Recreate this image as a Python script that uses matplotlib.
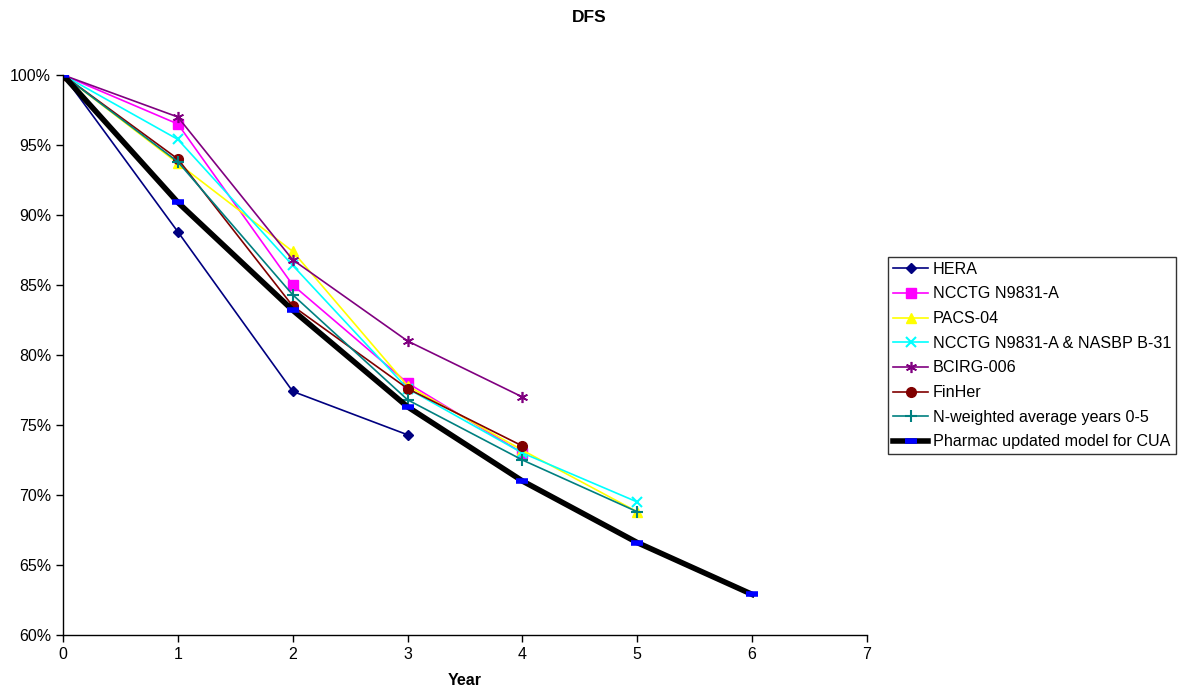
import matplotlib
matplotlib.use("Agg")
import matplotlib.pyplot as plt
from matplotlib.ticker import FuncFormatter, MultipleLocator

plt.rcParams['font.family'] = ['Liberation Sans', 'DejaVu Sans']

years_hera = [0, 1, 2, 3]
hera = [100, 88.8, 77.4, 74.3]
years_4 = [0, 1, 2, 3, 4]
years_5 = [0, 1, 2, 3, 4, 5]
years_6 = [0, 1, 2, 3, 4, 5, 6]
ncctg = [100, 96.5, 85.0, 78.0, 73.0]
pacs = [100, 93.7, 87.4, 77.8, 73.2, 68.8]
ncctg_nsabp = [100, 95.4, 86.4, 77.6, 73.0, 69.5]
bcirg = [100, 97.0, 86.8, 81.0, 77.0]
finher = [100, 94.0, 83.5, 77.6, 73.5]
nweighted = [100, 93.8, 84.3, 76.8, 72.5, 68.8]
pharmac = [100, 90.9, 83.2, 76.3, 71.0, 66.6, 62.9]

labels = ["HERA", "NCCTG N9831-A", "PACS-04", "NCCTG N9831-A & NASBP B-31",
          "BCIRG-006", "FinHer", "N-weighted average years 0-5",
          "Pharmac updated model for CUA"]

fig = plt.figure(figsize=(11.79, 6.94), dpi=100)
ax = fig.add_axes([63/1179, 1-635/694, (867-63)/1179, (635-75)/694])

ax.plot(years_hera, hera, color='#000080', lw=1.2, marker='D', ms=5, label=labels[0])
ax.plot(years_4, ncctg, color='#FF00FF', lw=1.2, marker='s', ms=7, label=labels[1])
ax.plot(years_5, pacs, color='#FFFF00', lw=1.2, marker='^', ms=7, label=labels[2])
ax.plot(years_5, ncctg_nsabp, color='#00FFFF', lw=1.2, marker='x', ms=7, mew=1.5, label=labels[3])
ax.plot(years_4, bcirg, color='#800080', lw=1.2, marker=(6, 2, 0), ms=8, mew=1.2, label=labels[4])
ax.plot(years_4, finher, color='#800000', lw=1.2, marker='o', ms=7, label=labels[5])
ax.plot(years_5, nweighted, color='#008080', lw=1.2, marker='+', ms=8, mew=1.5, label=labels[6])
ax.plot(years_6, pharmac, color='black', lw=4, marker='_', ms=8, mew=4, mec='#0000FF', label=labels[7])

ax.set_xlim(0, 7)
ax.set_ylim(60, 100)
ax.xaxis.set_major_locator(MultipleLocator(1))
ax.yaxis.set_major_locator(MultipleLocator(5))
ax.yaxis.set_major_formatter(FuncFormatter(lambda v, p: f"{v:.0f}%"))
ax.spines['top'].set_visible(False)
ax.spines['right'].set_visible(False)
for s in ['left', 'bottom']:
    ax.spines[s].set_linewidth(1.0)
ax.tick_params(direction='out', length=5, labelsize=11.5, width=1)
for sp in ax.spines.values():
    sp.set_clip_on(False)
ax.set_xlabel("Year", fontsize=11.5, fontweight='bold', labelpad=8)
fig.text(0.5, 1-18/694, "DFS", ha='center', va='center', fontsize=12.5, fontweight='bold')

leg = fig.legend(loc='upper left', bbox_to_anchor=(888/1179, 1-257/694), fontsize=11.6,
                 frameon=True, fancybox=False, edgecolor='black', borderpad=0.3,
                 handlelength=2.2, handletextpad=0.3, labelspacing=0.6, borderaxespad=0)
leg.get_frame().set_linewidth(1.0)

fig.savefig("out.png", dpi=100)
